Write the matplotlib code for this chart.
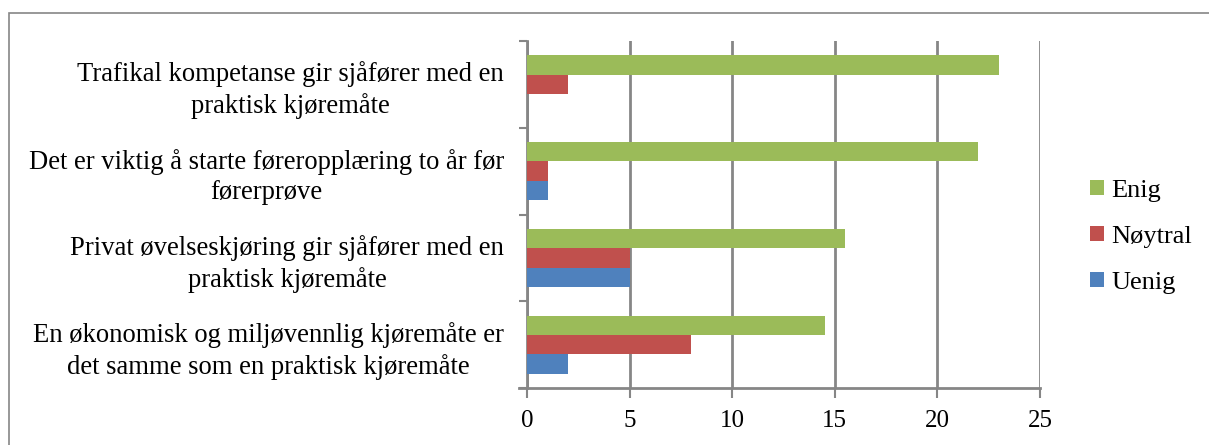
import numpy as np
import matplotlib
matplotlib.use('Agg')
import matplotlib.pyplot as plt
from matplotlib.patches import Rectangle

plt.rcParams['font.family'] = ['Liberation Serif', 'DejaVu Serif']

# data, bottom to top as in the chart
categories = [
    'En økonomisk og miljøvennlig kjøremåte er\ndet samme som en praktisk kjøremåte',
    'Privat øvelseskjøring gir sjåfører med en\npraktisk kjøremåte',
    'Det er viktig å starte føreropplæring to år før\nførerprøve',
    'Trafikal kompetanse gir sjåfører med en\npraktisk kjøremåte',
]
enig = [14.5, 15.5, 22, 23]
noytral = [8, 5, 1, 2]
uenig = [2, 5, 1, 0]
xticks = [0, 5, 10, 15, 20, 25]

gray = '#868686'
col_enig = '#9BBB59'
col_noy = '#C0504D'
col_uen = '#4F81BD'

fig = plt.figure(figsize=(12.09, 4.45), dpi=100)
ax = fig.add_axes([527 / 1209, 1 - 388 / 445, 513 / 1209, 347 / 445])

# outer frame of the chart area
fig.patches.append(Rectangle((9 / 1209, -0.2), 1.2, 1 - 13 / 445 + 0.2,
                             transform=fig.transFigure, fill=False,
                             edgecolor=gray, linewidth=1.2))

y = np.arange(len(categories))
h = 0.223
ax.barh(y - h, uenig, height=h, color=col_uen, label='Uenig', zorder=3)
ax.barh(y, noytral, height=h, color=col_noy, label='Nøytral', zorder=3)
ax.barh(y + h, enig, height=h, color=col_enig, label='Enig', zorder=3)

ax.set_xlim(0, 25)
ax.set_ylim(-0.5, len(categories) - 0.5)
ax.set_xticks(xticks)
ax.set_xticklabels([str(t) for t in xticks], fontsize=18)
ax.set_yticks(y)
ax.set_yticklabels(categories, fontsize=19.2, multialignment='center', linespacing=1.3)
ax.set_yticks(np.arange(len(categories) + 1) - 0.5, minor=True)

ax.tick_params(axis='y', which='major', length=0, pad=16.5)
ax.tick_params(axis='y', which='minor', length=6, color=gray, width=1.5)
ax.tick_params(axis='x', length=7, color=gray, width=1.5, pad=9)

ax.grid(axis='x', color=gray, linewidth=2, zorder=0)
for s in ['top', 'right']:
    ax.spines[s].set_visible(False)
for s in ['left', 'bottom']:
    ax.spines[s].set_color(gray)
    ax.spines[s].set_linewidth(2)
ax.spines['bottom'].set_bounds(-0.4, 25)

handles, labels = ax.get_legend_handles_labels()
ax.legend(handles[::-1], labels[::-1], loc='center left', bbox_to_anchor=(1.052, 0.436),
          frameon=False, fontsize=19, handlelength=0.53, handleheight=0.53,
          handletextpad=0.27, labelspacing=0.9)

fig.savefig('out.png', dpi=100)
